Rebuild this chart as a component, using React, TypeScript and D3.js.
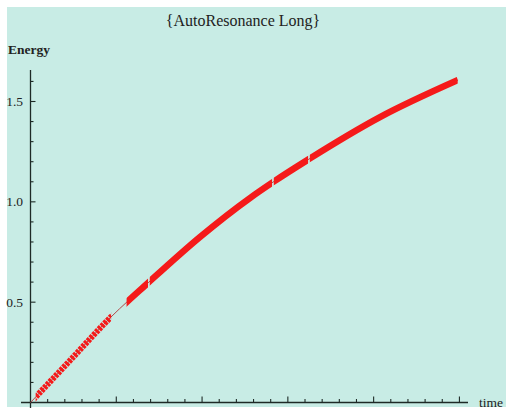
import React from 'react';
import * as d3 from 'd3';

// values
const timeValues = [0, 2.3, 4.63, 6.85, 9.88, 12.79, 14.13, 16.23, 20.37, 24.92];
const energyValues = [0, 0.209, 0.421, 0.596, 0.825, 1.019, 1.098, 1.213, 1.422, 1.607];
// stretches of time where the thick red markers are drawn
const runStarts = [0.3, 5.6, 6.95, 14.18, 16.28];
const runEnds = [4.7, 6.85, 14.08, 16.18, 24.9];
const yTickLabels = ['0.5', '1.0', '1.5'];
const chartTitle = '{AutoResonance Long}';

const width = 506;
const height = 409;
const margin = { left: 30.5, right: 46, top: 70, bottom: 6.5 };

function App() {
  const svgRef = React.useRef(null);

  React.useEffect(() => {
    const svg = d3.select(svgRef.current);
    svg.selectAll('*').remove();

    const xScale = d3.scaleLinear().domain([0, 25.5]).range([margin.left, width - margin.right + 8]);
    const yScale = d3
      .scaleLinear()
      .domain([0, 1.657])
      .range([height - margin.bottom, margin.top]);

    const font = '"Liberation Serif", "DejaVu Serif", serif';
    const axisColor = '#1e2a26';

    // background panel
    svg
      .append('rect')
      .attr('x', 7)
      .attr('y', 7)
      .attr('width', width - 7)
      .attr('height', height - 9)
      .attr('fill', '#c8ece5');

    const x0 = xScale(0);
    const y0 = yScale(0);

    // x axis
    svg
      .append('line')
      .attr('x1', 21)
      .attr('x2', xScale(25.5))
      .attr('y1', y0)
      .attr('y2', y0)
      .attr('stroke', axisColor)
      .attr('stroke-width', 1.3);

    d3.range(1, 26).forEach((t) => {
      const major = t % 5 === 0;
      svg
        .append('line')
        .attr('x1', xScale(t))
        .attr('x2', xScale(t))
        .attr('y1', y0)
        .attr('y2', y0 - (major ? 6 : 3.5))
        .attr('stroke', axisColor)
        .attr('stroke-width', 1.1);
    });

    // y axis
    svg
      .append('line')
      .attr('x1', x0)
      .attr('x2', x0)
      .attr('y1', margin.top)
      .attr('y2', 408)
      .attr('stroke', axisColor)
      .attr('stroke-width', 1.3);

    d3.range(1, 17).forEach((i) => {
      const v = i / 10;
      const major = i % 5 === 0;
      svg
        .append('line')
        .attr('x1', x0)
        .attr('x2', x0 + (major ? 5 : 3))
        .attr('y1', yScale(v))
        .attr('y2', yScale(v))
        .attr('stroke', axisColor)
        .attr('stroke-width', 1.1);
    });

    yTickLabels.forEach((label) => {
      svg
        .append('text')
        .attr('x', 23)
        .attr('y', yScale(+label) + 4.5)
        .attr('text-anchor', 'end')
        .attr('font-family', font)
        .attr('font-size', 13.5)
        .attr('fill', '#222')
        .text(label);
    });

    // labels
    svg
      .append('text')
      .attr('x', 243)
      .attr('y', 26)
      .attr('text-anchor', 'middle')
      .attr('font-family', font)
      .attr('font-size', 16)
      .attr('fill', '#222')
      .text(chartTitle);

    svg
      .append('text')
      .attr('x', 8)
      .attr('y', 54)
      .attr('font-family', font)
      .attr('font-size', 13.5)
      .attr('font-weight', 'bold')
      .attr('fill', '#222')
      .text('Energy');

    svg
      .append('text')
      .attr('x', 479)
      .attr('y', 407)
      .attr('font-family', font)
      .attr('font-size', 13.5)
      .attr('fill', '#222')
      .text('time');

    // curve
    const points = timeValues.map((t, i) => [t, energyValues[i]]);
    const line = d3
      .line()
      .x((d) => xScale(d[0]))
      .y((d) => yScale(d[1]))
      .curve(d3.curveMonotoneX);
    const pathD = line(points);

    svg
      .append('path')
      .attr('d', pathD)
      .attr('fill', 'none')
      .attr('stroke', '#b24a4a')
      .attr('stroke-width', 1);

    const defs = svg.append('defs');
    runStarts.forEach((start, i) => {
      const id = `run-clip-${i}`;
      defs
        .append('clipPath')
        .attr('id', id)
        .append('rect')
        .attr('x', xScale(start))
        .attr('y', 0)
        .attr('width', xScale(runEnds[i]) - xScale(start))
        .attr('height', height);

      svg
        .append('path')
        .attr('d', pathD)
        .attr('clip-path', `url(#${id})`)
        .attr('fill', 'none')
        .attr('stroke', '#f51a1a')
        .attr('stroke-width', i === 0 ? 6 : 6.5)
        .attr('stroke-dasharray', i === 0 ? '3,1' : null)
        .attr('stroke-linecap', 'butt');
    });
  }, []);

  return (
    <svg
      ref={svgRef}
      width={width}
      height={height}
      style={{ position: 'absolute', left: 0, top: 0 }}
    ></svg>
  );
}

export default App;
